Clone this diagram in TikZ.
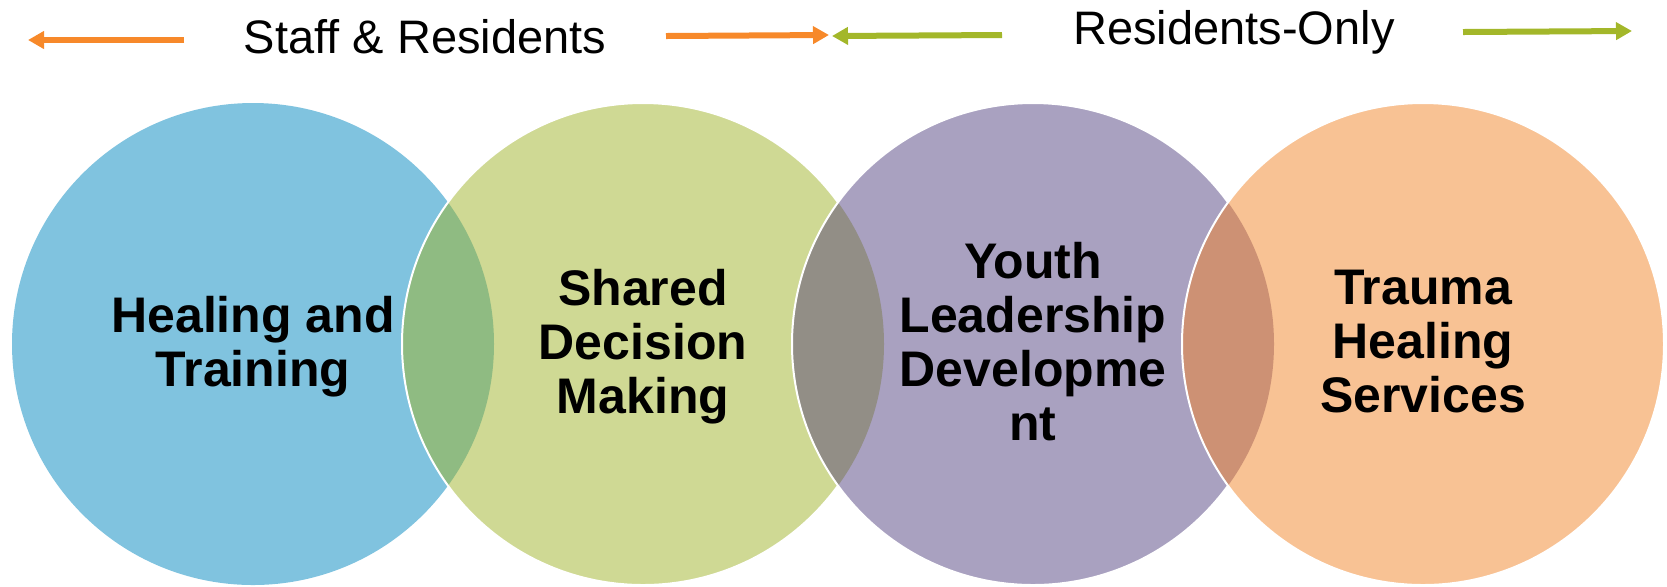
\documentclass[tikz,border=0pt]{standalone}
\usepackage{fontspec}
\setmainfont{Liberation Sans}
\usetikzlibrary{arrows.meta}
\definecolor{cblue}{RGB}{128,195,223}
\definecolor{cgreen}{RGB}{207,217,148}
\definecolor{cpurple}{RGB}{169,161,192}
\definecolor{corange}{RGB}{248,194,148}
\definecolor{lensA}{RGB}{143,187,130}
\definecolor{lensB}{RGB}{146,142,134}
\definecolor{lensC}{RGB}{205,145,116}
\definecolor{arrorange}{RGB}{247,137,42}
\definecolor{arrgreen}{RGB}{163,183,42}
\tikzset{
  label/.style={inner sep=0pt, align=center, font=\fontsize{25}{27}\selectfont\bfseries},
  toptext/.style={inner sep=0pt, font=\fontsize{23.5}{28}\selectfont},
  bigarrow/.style={line width=3pt, -{Triangle[length=8pt,width=8.5pt]}},
  rim/.style={draw=white, line width=1pt}
}
\begin{document}
\begin{tikzpicture}[x=0.5pt,y=-0.5pt]
\useasboundingbox (0,0) rectangle (1667,586);
\def\R{120.5pt}
% circles
\coordinate (p1) at (253,344);
\coordinate (p2) at (643,344);
\coordinate (p3) at (1033,344);
\coordinate (p4) at (1423,344);
\fill[cblue] (p1) circle[radius=\R];
\fill[cgreen] (p2) circle[radius=\R];
\begin{scope}
  \clip (p1) circle[radius=\R];
  \fill[lensA] (p2) circle[radius=\R];
\end{scope}
\draw[rim] (p2) circle[radius=\R];
\fill[cpurple] (p3) circle[radius=\R];
\begin{scope}
  \clip (p2) circle[radius=\R];
  \fill[lensB] (p3) circle[radius=\R];
\end{scope}
\draw[rim] (p3) circle[radius=\R];
\fill[corange] (p4) circle[radius=\R];
\begin{scope}
  \clip (p3) circle[radius=\R];
  \fill[lensC] (p4) circle[radius=\R];
\end{scope}
\draw[rim] (p4) circle[radius=\R];
% labels
\node[label] (t1) at (253,346.7) {Healing and\\Training};
\node[label] (t2) at (643,346.7) {Shared\\Decision\\Making};
\node[label] (t3) at (1033,342) {Youth\\Leadership\\Developme\\nt};
\node[label] (t4) at (1423,341.5) {Trauma\\Healing\\Services};
% top texts
\node[toptext, anchor=base] (sr) at (425,53) {Staff \& Residents};
\node[toptext, anchor=base] (ro) at (1234,44) {Residents-Only};
% arrows
\coordinate (a1s) at (184,40); \coordinate (a1e) at (28,40);
\coordinate (a2s) at (666,36); \coordinate (a2e) at (829,35);
\coordinate (a3s) at (1002,35); \coordinate (a3e) at (832,36);
\coordinate (a4s) at (1463,32); \coordinate (a4e) at (1632,31);
\draw[bigarrow, arrorange] (a1s) -- (a1e);
\draw[bigarrow, arrorange] (a2s) -- (a2e);
\draw[bigarrow, arrgreen] (a3s) -- (a3e);
\draw[bigarrow, arrgreen] (a4s) -- (a4e);
\end{tikzpicture}
\end{document}
